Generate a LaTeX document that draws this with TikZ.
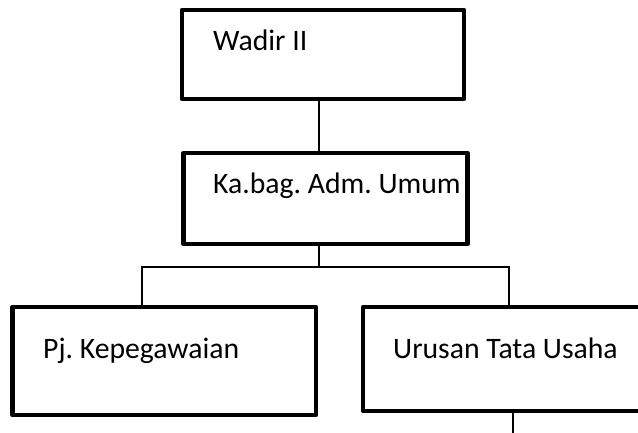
\documentclass[tikz,border=0pt]{standalone}
\usepackage{fontspec}
\setmainfont{Carlito}
\frenchspacing
\begin{document}
\begin{tikzpicture}[x=1pt,y=-1pt,
  box/.style={draw=black, line width=4.6pt, line join=round, fill=white, rectangle, inner sep=0pt},
  lbl/.style={anchor=base west, inner sep=0pt, font=\fontsize{29.7}{35}\selectfont},
  conn/.style={draw=black, line width=1.4pt}]
\useasboundingbox (0,0) rectangle (638,432);
\clip (0,0) rectangle (638,432);
% boxes
\node[box, minimum width=282pt, minimum height=89pt] (wadir) at (323,54.5) {};
\node[box, minimum width=284pt, minimum height=91pt] (kabag) at (325.5,198.5) {};
\node[box, minimum width=303.5pt, minimum height=108pt] (pj) at (164.25,361) {};
\node[box, minimum width=297pt, minimum height=104pt] (urusan) at (511.5,359) {};
% labels
\node[lbl] (twadir) at (213,50) {\frenchspacing Wadir II};
\node[lbl] (tkabag) at (213,193) {\frenchspacing Ka.bag. Adm. Umum};
\node[lbl] (tpj) at (43,358) {\frenchspacing Pj. Kepegawaian};
\node[lbl] (turusan) at (393,358) {\frenchspacing Urusan Tata Usaha};
% junction coordinates
\coordinate (j) at (319,267);
\coordinate (jl) at (142,267);
\coordinate (jr) at (509,267);
\coordinate (tail) at (513,440);
% connectors
\draw[conn] (j |- wadir.south) -- (j |- kabag.north);
\draw[conn] (j |- kabag.south) -- (j);
\draw[conn] (jl |- pj.north) -- (jl) -- (jr) -- (jr |- urusan.north);
\draw[conn] (tail |- urusan.south) -- (tail);
\end{tikzpicture}
\end{document}
